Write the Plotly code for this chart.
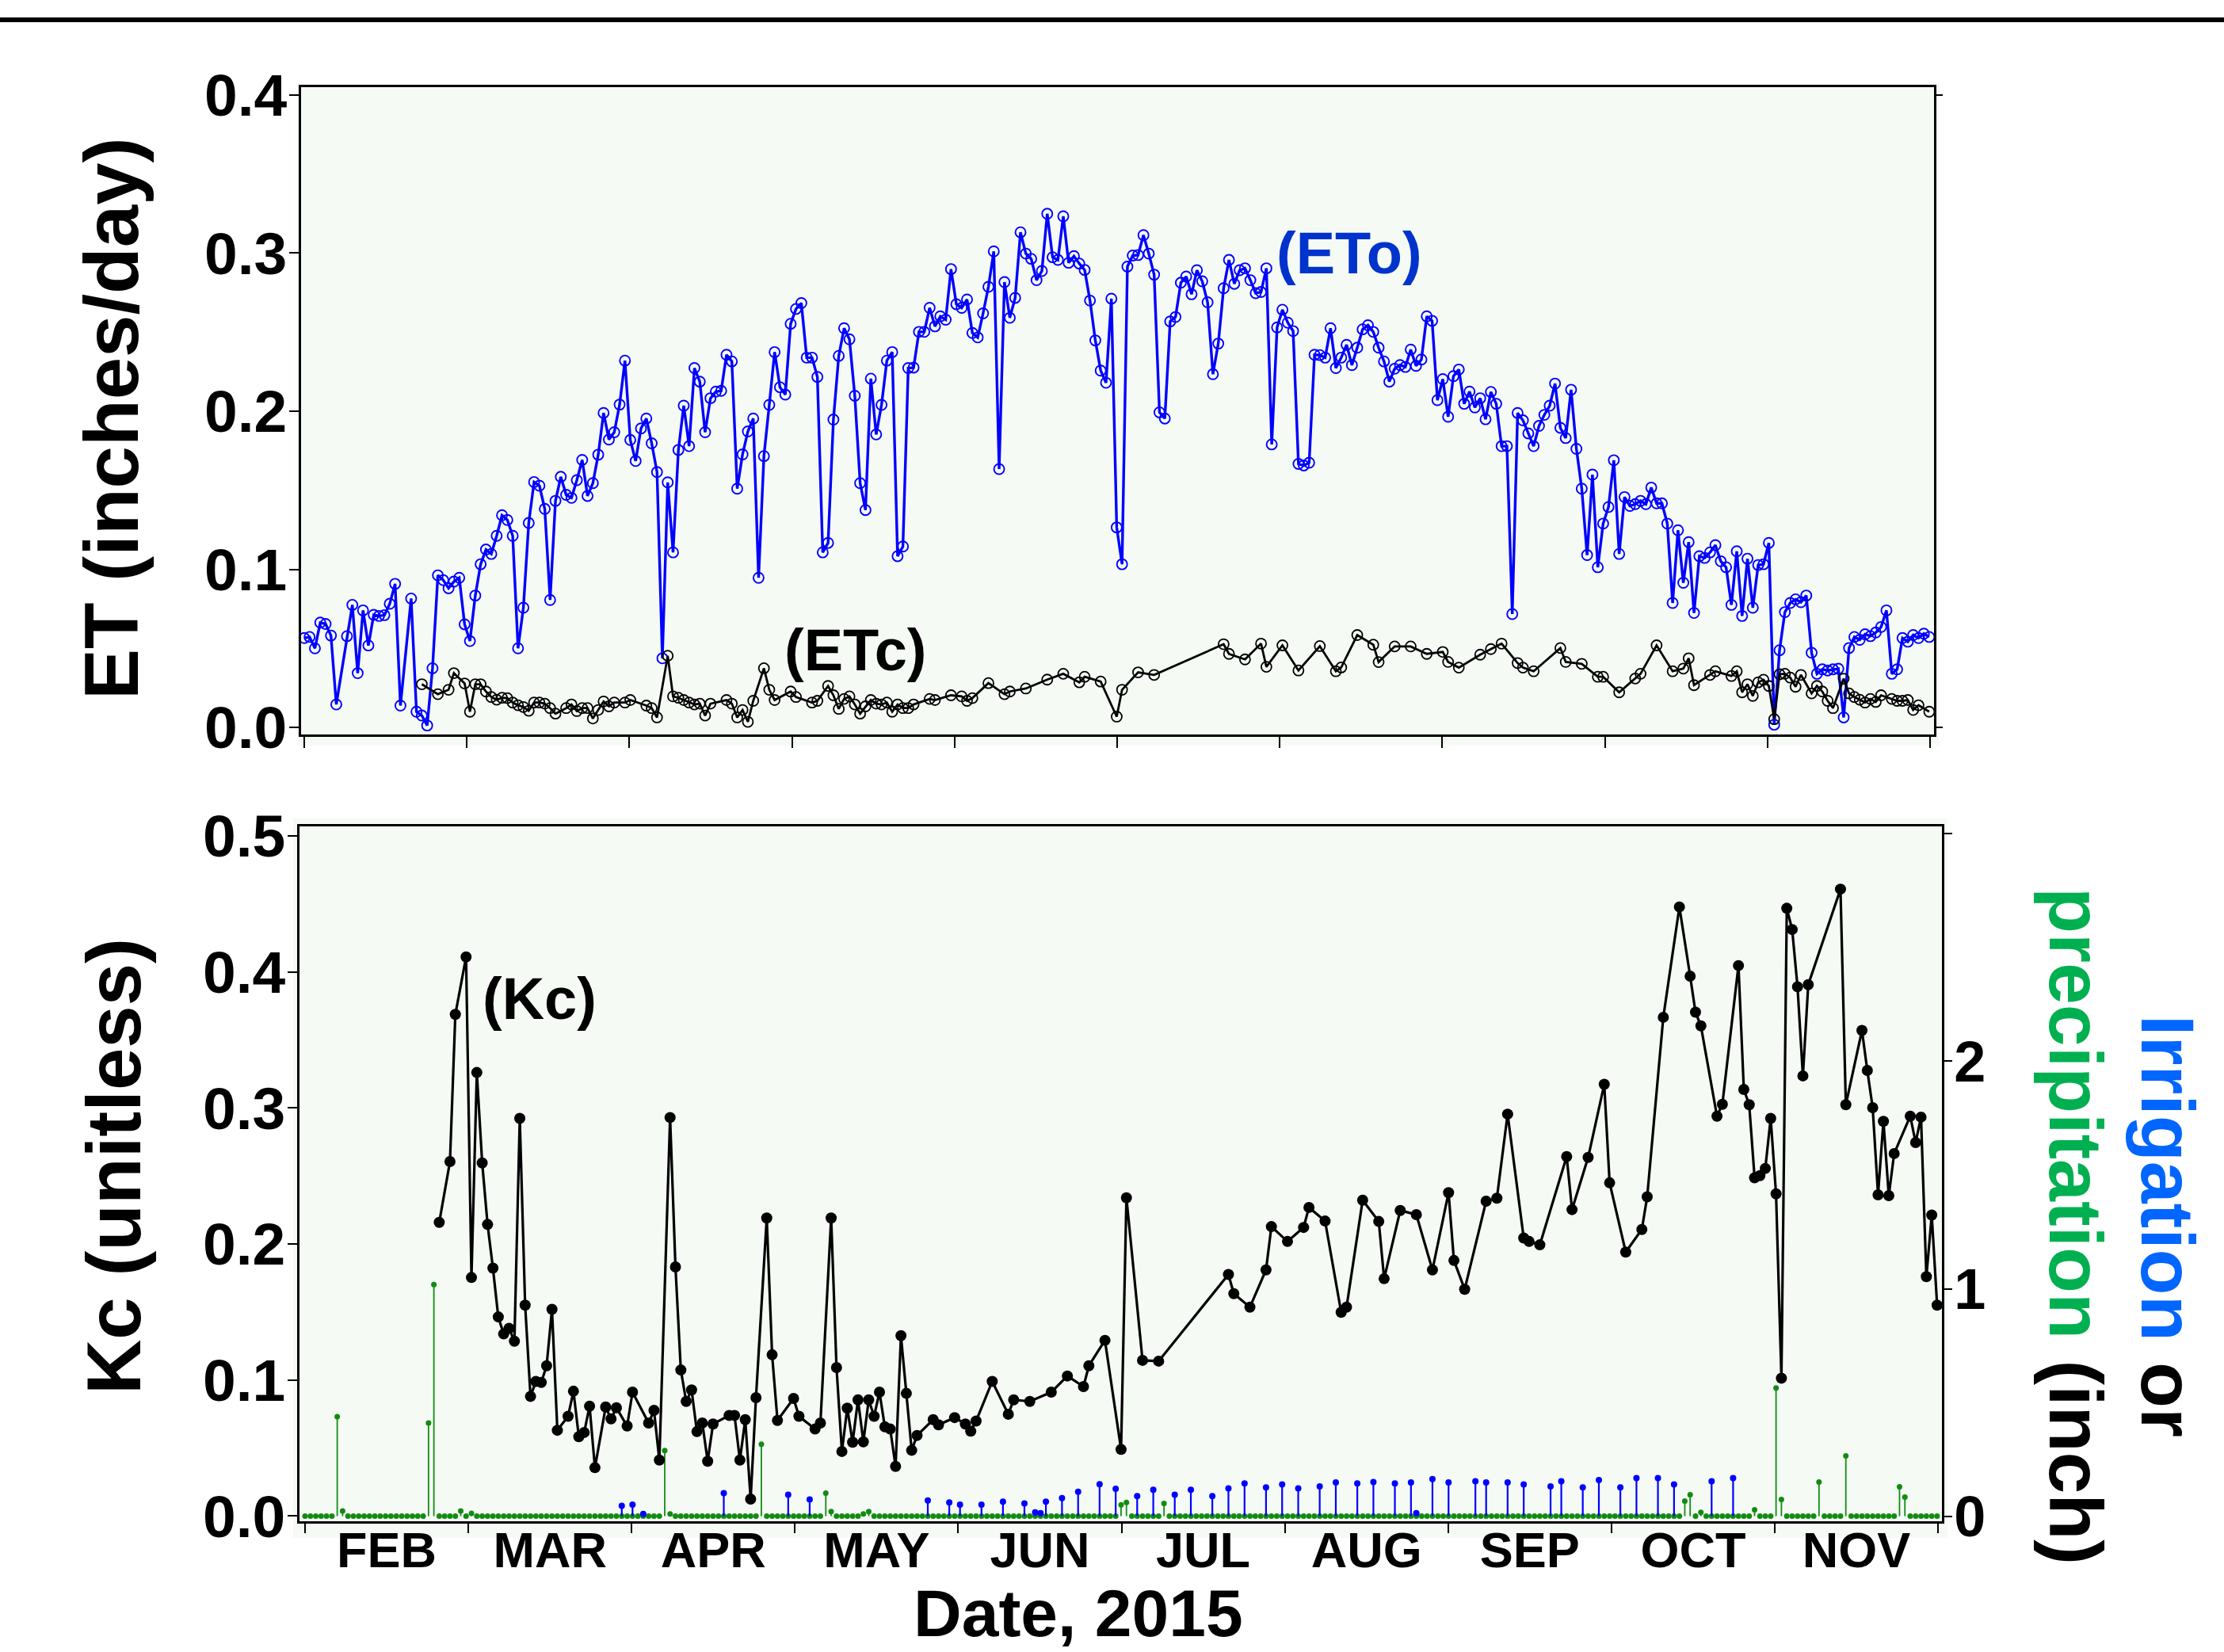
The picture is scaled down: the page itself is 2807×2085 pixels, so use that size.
import plotly.graph_objects as go
import pandas as pd

W, H = 2807, 2085
START = pd.Timestamp("2015-02-01")
MONTH_LEN = 365.0 / 12.0
FONT = "Liberation Sans, Arial, sans-serif"

# ---------------- data ----------------
months = ["FEB", "MAR", "APR", "MAY", "JUN", "JUL", "AUG", "SEP", "OCT", "NOV"]

# daily reference ET (inches/day); days 7 and 19 not plotted
eto_missing_days = [7, 19]
eto = [
    0.0565, 0.0572, 0.0500, 0.0663, 0.0654, 0.0581, 0.0145, 0.0577, 0.0775, 0.0343,
    0.0740, 0.0518, 0.0712, 0.0705, 0.0710, 0.0782, 0.0908, 0.0138, 0.0815, 0.0099,
    0.0075, 0.0012, 0.0374, 0.0962, 0.0932, 0.0880, 0.0922, 0.0946, 0.0652, 0.0546,
    0.0834, 0.1032, 0.1125, 0.1097, 0.1212, 0.1342, 0.1312, 0.1212, 0.0500, 0.0757,
    0.1293, 0.1552, 0.1529, 0.1382, 0.0806, 0.1433, 0.1585, 0.1471, 0.1452, 0.1564,
    0.1692, 0.1464, 0.1545, 0.1725, 0.1989, 0.1821, 0.1867, 0.2042, 0.2320, 0.1818,
    0.1685, 0.1891, 0.1954, 0.1797, 0.1615, 0.0437, 0.1550, 0.1107, 0.1755, 0.2035,
    0.1779, 0.2273, 0.2187, 0.1867, 0.2082, 0.2124, 0.2129, 0.2357, 0.2315, 0.1510,
    0.1727, 0.1872, 0.1954, 0.0946, 0.1716, 0.2040, 0.2374, 0.2152, 0.2105, 0.2553,
    0.2647, 0.2684, 0.2339, 0.2339, 0.2217, 0.1107, 0.1167, 0.1947, 0.2350, 0.2525,
    0.2455, 0.2098, 0.1545, 0.1375, 0.2206, 0.1853, 0.2040, 0.2320, 0.2374, 0.1083,
    0.1144, 0.2273, 0.2276, 0.2502, 0.2502, 0.2654, 0.2537, 0.2600, 0.2579, 0.2899,
    0.2677, 0.2654, 0.2707, 0.2495, 0.2467, 0.2619, 0.2787, 0.3011, 0.1634, 0.2817,
    0.2591, 0.2717, 0.3132, 0.2997, 0.2964, 0.2829, 0.2887, 0.3249, 0.2974, 0.2957,
    0.3233, 0.2939, 0.2981, 0.2934, 0.2894, 0.2700, 0.2448, 0.2257, 0.2180, 0.2712,
    0.1265, 0.1032, 0.2915, 0.2985, 0.2988, 0.3114, 0.2997, 0.2864, 0.1993, 0.1954,
    0.2568, 0.2596, 0.2813, 0.2852, 0.2740, 0.2892, 0.2822, 0.2689, 0.2234, 0.2428,
    0.2778, 0.2957, 0.2806, 0.2892, 0.2904, 0.2829, 0.2747, 0.2754, 0.2904, 0.1790,
    0.2530, 0.2642, 0.2560, 0.2507, 0.1667, 0.1657, 0.1674, 0.2357, 0.2355, 0.2339,
    0.2525, 0.2273, 0.2339, 0.2420, 0.2292, 0.2402, 0.2518, 0.2544, 0.2502, 0.2402,
    0.2315, 0.2187,
    0.2269, 0.2292, 0.2280, 0.2390, 0.2287, 0.2327, 0.2600, 0.2572, 0.2070, 0.2203,
    0.1965, 0.2222, 0.2264, 0.2047, 0.2124, 0.2024, 0.2082, 0.1949, 0.2122, 0.2047,
    0.1779, 0.1779, 0.0717, 0.1989, 0.1942, 0.1860, 0.1779, 0.1907, 0.1977, 0.2035,
    0.2175, 0.1895, 0.1830, 0.2136, 0.1762, 0.1510, 0.1090, 0.1599, 0.1013, 0.1289,
    0.1394, 0.1690, 0.1097, 0.1457, 0.1401, 0.1412, 0.1433, 0.1412, 0.1517, 0.1417,
    0.1417, 0.1289, 0.0787, 0.1247, 0.0915, 0.1172, 0.0724, 0.1083, 0.1072, 0.1107,
    0.1153, 0.1051, 0.1013, 0.0775, 0.1114, 0.0705, 0.1067, 0.0757, 0.1027, 0.1032,
    0.1167, 0.0017, 0.0488, 0.0729, 0.0787, 0.0810, 0.0792, 0.0834, 0.0472, 0.0339,
    0.0367, 0.0360, 0.0367, 0.0371, 0.0063, 0.0502, 0.0572, 0.0554, 0.0589, 0.0577,
    0.0600, 0.0635, 0.0740, 0.0339, 0.0367, 0.0565, 0.0542, 0.0584, 0.0565, 0.0593,
    0.0572,
]

# crop ET (inches/day): (day after Feb 1, value)
etc_pts = [
    (22, 0.0273), (25, 0.0210), (27, 0.0238), (28, 0.0343), (30, 0.0278), (31, 0.0099), (32, 0.0273), (33, 0.0273),
    (34, 0.0227), (35, 0.0192), (36, 0.0175), (37, 0.0187), (38, 0.0185), (39, 0.0157), (40, 0.0140), (41, 0.0129),
    (42, 0.0105), (43, 0.0157), (44, 0.0157), (45, 0.0150), (46, 0.0122), (47, 0.0087), (49, 0.0122), (50, 0.0145),
    (51, 0.0103), (52, 0.0122), (53, 0.0122), (54, 0.0056), (55, 0.0110), (56, 0.0164), (57, 0.0133), (58, 0.0157),
    (60, 0.0157), (61, 0.0173), (64, 0.0138), (65, 0.0122), (66, 0.0063), (68, 0.0453), (69, 0.0196), (70, 0.0187),
    (71, 0.0173), (72, 0.0157), (73, 0.0145), (74, 0.0150), (75, 0.0075), (76, 0.0150), (79, 0.0173), (80, 0.0150),
    (81, 0.0063), (82, 0.0110), (83, 0.0035), (84, 0.0168), (86, 0.0374), (87, 0.0238), (88, 0.0173), (91, 0.0227),
    (92, 0.0192), (95, 0.0157), (96, 0.0168), (98, 0.0262), (99, 0.0203), (100, 0.0117), (101, 0.0180),
    (102, 0.0196), (103, 0.0145), (104, 0.0087), (105, 0.0133), (106, 0.0173), (107, 0.0150), (108, 0.0145),
    (109, 0.0157), (110, 0.0099), (111, 0.0145), (112, 0.0122), (113, 0.0122), (114, 0.0145), (117, 0.0180),
    (118, 0.0173), (121, 0.0203), (123, 0.0196), (124, 0.0168), (125, 0.0185), (128, 0.0280), (131, 0.0210),
    (132, 0.0227), (135, 0.0246), (139, 0.0302), (142, 0.0339), (145, 0.0285), (146, 0.0320), (149, 0.0290),
    (152, 0.0068), (153, 0.0238), (156, 0.0348), (159, 0.0332), (172, 0.0526), (173, 0.0465), (176, 0.0430),
    (179, 0.0530), (180, 0.0383), (183, 0.0519), (186, 0.0360), (190, 0.0514), (193, 0.0355), (194, 0.0379),
    (197, 0.0584), (200, 0.0523), (201, 0.0413),
    (204, 0.0512), (207, 0.0512), (210, 0.0465), (213, 0.0477), (214, 0.0414), (216, 0.0378), (220, 0.0460),
    (222, 0.0495), (224, 0.0530), (227, 0.0407), (228, 0.0378), (230, 0.0355), (235, 0.0502), (236, 0.0414),
    (239, 0.0402), (242, 0.0320), (243, 0.0320), (246, 0.0222), (249, 0.0309), (250, 0.0339), (253, 0.0519),
    (256, 0.0355), (258, 0.0372), (259, 0.0437), (260, 0.0267), (263, 0.0332), (264, 0.0355), (267, 0.0325),
    (268, 0.0355), (269, 0.0222), (270, 0.0273), (271, 0.0199), (272, 0.0285), (273, 0.0301), (274, 0.0262),
    (275, 0.0052), (276, 0.0336), (277, 0.0339), (278, 0.0315), (279, 0.0257), (280, 0.0332), (282, 0.0215),
    (283, 0.0262), (284, 0.0227), (285, 0.0168), (286, 0.0122), (288, 0.0308), (289, 0.0215), (290, 0.0192),
    (291, 0.0175), (292, 0.0157), (293, 0.0180), (294, 0.0161), (295, 0.0203), (297, 0.0180), (298, 0.0168),
    (299, 0.0168), (300, 0.0173), (301, 0.0110), (302, 0.0140), (304, 0.0099),
]

# crop coefficient (unitless)
kc_pts = [
    (25, 0.2159), (27, 0.2606), (28, 0.3688), (30, 0.4110), (31, 0.1754), (32, 0.3261), (33, 0.2596), (34, 0.2144),
    (35, 0.1823), (36, 0.1464), (37, 0.1339), (38, 0.1380), (39, 0.1286), (40, 0.2924), (41, 0.1551), (42, 0.0880),
    (43, 0.0990), (44, 0.0983), (45, 0.1105), (46, 0.1520), (47, 0.0631), (49, 0.0734), (50, 0.0918), (51, 0.0584),
    (52, 0.0615), (53, 0.0808), (54, 0.0356), (56, 0.0802), (57, 0.0715), (58, 0.0796), (60, 0.0662), (61, 0.0911),
    (64, 0.0684), (65, 0.0777), (66, 0.0412), (68, 0.2930), (69, 0.1832), (70, 0.1074), (71, 0.0843), (72, 0.0927),
    (73, 0.0621), (74, 0.0684), (75, 0.0403), (76, 0.0677), (79, 0.0740), (80, 0.0740), (81, 0.0412), (82, 0.0709),
    (83, 0.0125), (84, 0.0871), (86, 0.2191), (87, 0.1186), (88, 0.0703), (91, 0.0865), (92, 0.0734), (95, 0.0640),
    (96, 0.0684), (98, 0.2191), (99, 0.1092), (100, 0.0475), (101, 0.0793), (102, 0.0543), (103, 0.0855),
    (104, 0.0546), (105, 0.0855), (106, 0.0734), (107, 0.0911), (108, 0.0656), (109, 0.0640), (110, 0.0365),
    (111, 0.1326), (112, 0.0902), (113, 0.0484), (114, 0.0593), (117, 0.0709), (118, 0.0671), (121, 0.0724),
    (123, 0.0677), (124, 0.0624), (125, 0.0699), (128, 0.0990), (131, 0.0749), (132, 0.0855), (135, 0.0843),
    (139, 0.0911), (142, 0.1030), (145, 0.0952), (146, 0.1105), (149, 0.1292), (152, 0.0490), (153, 0.2340),
    (156, 0.1145), (159, 0.1139), (172, 0.1776), (173, 0.1635), (176, 0.1536), (179, 0.1810), (180, 0.2128),
    (183, 0.2019), (186, 0.2122), (187, 0.2269), (190, 0.2169), (193, 0.1498), (194, 0.1536), (197, 0.2322),
    (200, 0.2166), (201, 0.1745), (204, 0.2247), (207, 0.2216), (210, 0.1810), (213, 0.2378), (214, 0.1879),
    (216, 0.1667), (220, 0.2315), (222, 0.2337), (224, 0.2955), (227, 0.2044), (228, 0.2019), (230, 0.1994),
    (235, 0.2643), (236, 0.2253), (239, 0.2637), (242, 0.3174), (243, 0.2450), (246, 0.1941), (249, 0.2107),
    (250, 0.2347), (253, 0.3667), (256, 0.4478), (258, 0.3969), (259, 0.3704), (260, 0.3604), (263, 0.2940),
    (264, 0.3027), (267, 0.4047), (268, 0.3136), (269, 0.3024), (270, 0.2487), (271, 0.2503), (272, 0.2556),
    (273, 0.2924), (274, 0.2369), (275, 0.1014), (276, 0.4468), (277, 0.4312), (278, 0.3891), (279, 0.3236),
    (280, 0.3907), (286, 0.4609), (287, 0.3024), (290, 0.3570), (291, 0.3276), (292, 0.3002), (293, 0.2362),
    (294, 0.2902), (295, 0.2356), (296, 0.2665), (299, 0.2940), (300, 0.2746), (301, 0.2933), (302, 0.1760),
    (303, 0.2213), (304, 0.1551),
]

# precipitation events (inch); every other plotted day is 0
precip_days_total = 305
precip_pts = [
    (6, 0.437), (7, 0.023), (23, 0.409), (24, 1.018), (29, 0.023), (31, 0.012), (67, 0.288), (68, 0.010),
    (85, 0.316), (97, 0.101), (98, 0.020), (104, 0.010), (105, 0.020), (152, 0.050), (153, 0.060), (160, 0.056),
    (257, 0.066), (258, 0.094), (260, 0.017), (270, 0.028), (274, 0.564), (275, 0.073), (282, 0.150),
    (287, 0.265), (297, 0.129), (298, 0.084),
]

# irrigation events (inch)
irrig_pts = [
    (59, 0.045), (61, 0.051), (63, 0.010), (78, 0.101), (90, 0.094), (94, 0.073), (116, 0.069), (120, 0.060),
    (122, 0.051), (126, 0.051), (130, 0.064), (134, 0.056), (136, 0.017), (137, 0.013), (138, 0.064),
    (141, 0.079), (144, 0.107), (148, 0.140), (151, 0.120), (155, 0.088), (158, 0.116), (162, 0.094),
    (165, 0.116), (169, 0.088), (172, 0.122), (175, 0.144), (179, 0.126), (182, 0.139), (185, 0.122),
    (189, 0.131), (192, 0.148), (196, 0.144), (199, 0.150), (203, 0.144), (206, 0.148), (207, 0.013),
    (210, 0.163), (213, 0.148), (218, 0.153), (220, 0.148), (224, 0.148), (227, 0.139), (232, 0.131),
    (234, 0.153), (238, 0.126), (241, 0.159), (245, 0.126), (248, 0.167), (252, 0.167), (255, 0.139),
    (262, 0.153), (266, 0.167),
]

# ---------------- helpers ----------------
def D(d):
    return START + pd.to_timedelta(d, unit="D")

def px(x):
    return x / W

def py(y):
    return 1 - y / H

BLUE = "#0000FF"
GREEN = "#118C11"
BG = "#F5FAF5"

eto_days = [d for d in range(precip_days_total) if d not in eto_missing_days]
n = min(len(eto_days), len(eto))
eto_x = [D(d) for d in eto_days[:n]]
eto_y = eto[:n]

etc_x = [D(d) for d, _ in etc_pts]
etc_y = [v for _, v in etc_pts]
kc_x = [D(d) for d, _ in kc_pts]
kc_y = [v for _, v in kc_pts]

pmap = dict(precip_pts)
p_days = list(range(precip_days_total))
p_x = [D(d) for d in p_days]
p_y = [pmap.get(d, 0.0) for d in p_days]
i_x = [D(d) for d, _ in irrig_pts]
i_y = [v for _, v in irrig_pts]

boundaries = [D(k * MONTH_LEN) for k in range(11)]
centers = [D((k + 0.5) * MONTH_LEN) for k in range(10)]

fig = go.Figure()

# ---- top panel ----
fig.add_trace(go.Scatter(
    x=eto_x, y=eto_y, xaxis="x", yaxis="y", mode="lines+markers",
    line=dict(color=BLUE, width=3.4),
    marker=dict(symbol="circle-open", size=13, color=BLUE, line=dict(width=1.9)),
    showlegend=False, hoverinfo="skip"))
fig.add_trace(go.Scatter(
    x=etc_x, y=etc_y, xaxis="x", yaxis="y", mode="lines+markers",
    line=dict(color="black", width=2.8),
    marker=dict(symbol="circle-open", size=13, color="black", line=dict(width=1.8)),
    showlegend=False, hoverinfo="skip"))
fig.add_trace(go.Scatter(x=[D(0)], y=[None], xaxis="x", yaxis="y2", showlegend=False, hoverinfo="skip"))

# ---- bottom panel ----
fig.add_trace(go.Scatter(
    x=p_x, y=p_y, xaxis="x2", yaxis="y3", mode="markers",
    marker=dict(symbol="circle", size=7, color=GREEN),
    error_y=dict(type="data", symmetric=False, array=[0] * len(p_y), arrayminus=p_y,
                 width=0, thickness=1.8, color=GREEN),
    showlegend=False, hoverinfo="skip"))
fig.add_trace(go.Scatter(
    x=i_x, y=i_y, xaxis="x2", yaxis="y3", mode="markers",
    marker=dict(symbol="circle", size=8, color=BLUE),
    error_y=dict(type="data", symmetric=False, array=[0] * len(i_y), arrayminus=i_y,
                 width=0, thickness=2.2, color=BLUE),
    showlegend=False, hoverinfo="skip"))
fig.add_trace(go.Scatter(
    x=kc_x, y=kc_y, xaxis="x2", yaxis="y4", mode="lines+markers",
    line=dict(color="black", width=3.2),
    marker=dict(symbol="circle", size=14, color="black"),
    showlegend=False, hoverinfo="skip"))

tickfont = dict(family=FONT, size=75, color="black")
axline = dict(showline=True, linecolor="black", linewidth=2.5, showgrid=False, zeroline=False)

fig.update_layout(
    width=W, height=H, margin=dict(l=0, r=0, t=0, b=0, pad=0, autoexpand=False),
    paper_bgcolor="white", plot_bgcolor=BG, showlegend=False, autosize=False,
    font=dict(family=FONT, color="black"),
    xaxis=dict(domain=[px(380), px(2441)], anchor="y", type="date", automargin=False,
               range=[D(-0.59), D(304.9)], tickmode="array", tickvals=boundaries,
               showticklabels=False, ticks="outside", ticklen=14, tickwidth=2, tickcolor="black",
               mirror=True, **axline),
    yaxis=dict(domain=[py(927), py(110)], anchor="x", range=[-0.0045, 0.405], automargin=False,
               tickmode="array", tickvals=[0, 0.1, 0.2, 0.3, 0.4],
               ticktext=["<b>0.0</b>", "<b>0.1</b>", "<b>0.2</b>", "<b>0.3</b>", "<b>0.4</b>"],
               ticks="outside", ticklen=12, tickwidth=2, tickcolor="black", tickfont=tickfont,
               ticklabelstandoff=-12, mirror=True, **axline),
    yaxis2=dict(overlaying="y", anchor="x", side="right", range=[-0.0045, 0.405], automargin=False,
                tickmode="array", tickvals=[0, 0.4], showticklabels=False,
                ticks="outside", ticklen=10, tickwidth=2, tickcolor="black",
                showline=False, showgrid=False, zeroline=False),
    xaxis2=dict(domain=[px(378), px(2451)], anchor="y3", type="date", automargin=False,
                range=[D(-1.03), D(304.9)], tickmode="array", tickvals=centers,
                ticktext=["<b>%s</b>" % m for m in months], ticks="",
                tickfont=dict(family=FONT, size=63, color="black"), ticklabelstandoff=-20,
                minor=dict(tickmode="array", tickvals=boundaries, ticks="outside", ticklen=12,
                           tickwidth=2, tickcolor="black", showgrid=False),
                mirror=True, **axline),
    yaxis3=dict(domain=[py(1920), py(1043)], anchor="x2", side="right", range=[-0.0226, 3.033],
                automargin=False,
                tickmode="array", tickvals=[0, 1, 2, 3], ticktext=["<b>0</b>", "<b>1</b>", "<b>2</b>", ""],
                ticks="outside", ticklen=10, tickwidth=2, tickcolor="black", ticklabelstandoff=-12,
                tickfont=dict(family=FONT, size=72, color="black"), mirror=True, **axline),
    yaxis4=dict(overlaying="y3", anchor="x2", side="left", range=[-0.0038, 0.507], automargin=False,
                tickmode="array", tickvals=[0, 0.1, 0.2, 0.3, 0.4, 0.5],
                ticktext=["<b>0.0</b>", "<b>0.1</b>", "<b>0.2</b>", "<b>0.3</b>", "<b>0.4</b>", "<b>0.5</b>"],
                ticks="outside", ticklen=12, tickwidth=2, tickcolor="black", tickfont=tickfont,
                ticklabelstandoff=-12, **axline),
)

shapes = [
    dict(type="rect", xref="paper", yref="paper", x0=0, x1=1, y0=py(28), y1=py(22),
         fillcolor="black", line=dict(width=0), layer="above"),
    dict(type="rect", xref="paper", yref="paper", x0=px(375), x1=px(2447), y0=py(941), y1=py(105),
         fillcolor=BG, line=dict(width=0), layer="below"),
    dict(type="rect", xref="paper", yref="paper", x0=px(370), x1=px(2458), y0=py(1941), y1=py(1033),
         fillcolor=BG, line=dict(width=0), layer="below"),
]
fig.update_layout(shapes=shapes)

def ann(text, x, y, size, color="black", angle=0):
    return dict(text=text, xref="paper", yref="paper", x=px(x), y=py(y),
                xanchor="center", yanchor="middle", showarrow=False, textangle=angle,
                font=dict(family=FONT, size=size, color=color))

annotations = [
    ann("<b>ET (inches/day)</b>", 140, 528, 96, angle=-90),
    ann("<b>Kc (unitless)</b>", 143, 1472, 96, angle=-90),
    ann("<b><span style='color:#0066FF'>Irrigation</span> or</b>", 2736, 1547, 95, angle=90),
    ann("<b><span style='color:#00B050'>precipitation</span> (inch)</b>", 2620, 1547, 95, angle=90),
    ann("<b>Date, 2015</b>", 1361, 2036, 84),
    ann("<b>(ETo)</b>", 1703, 319, 74, color="#0033CC"),
    ann("<b>(ETc)</b>", 1080, 820, 74),
    ann("<b>(Kc)</b>", 681, 1260, 74),
]
fig.update_layout(annotations=annotations)

fig.write_html("out.html", config={"responsive": False, "displayModeBar": False},
               post_script="document.body.style.margin='0';document.body.style.overflow='hidden';")
